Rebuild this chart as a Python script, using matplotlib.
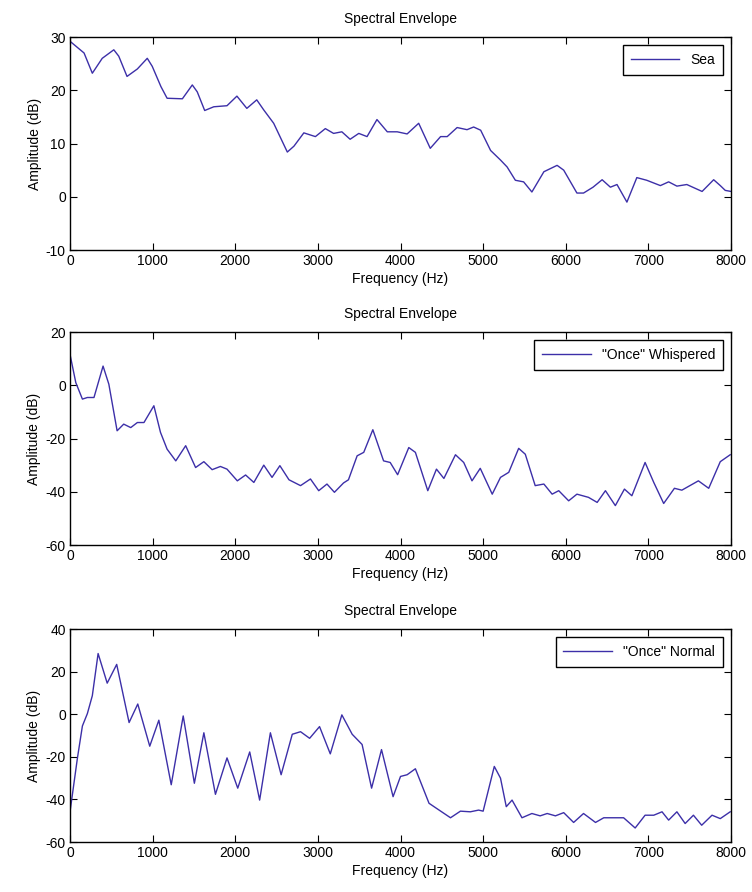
import numpy as np
import matplotlib
matplotlib.use("Agg")
import matplotlib.pyplot as plt

plt.rcParams['font.family'] = ['Liberation Sans', 'DejaVu Sans']
plt.rcParams['font.size'] = 10
plt.rcParams['axes.unicode_minus'] = False

# Sea
sea_f = [0, 170, 270, 390, 530, 590, 690, 815, 935, 995, 1100, 1175, 1360, 1480, 1540,
         1630, 1740, 1900, 2020, 2140, 2260, 2345, 2465, 2630, 2710, 2830, 2970, 3090,
         3190, 3290, 3390, 3495, 3595, 3715, 3840, 3960, 4080, 4220, 4360, 4485, 4565,
         4685, 4805, 4885, 4970, 5090, 5210, 5290, 5390, 5490, 5590, 5735, 5895, 5975,
         6135, 6215, 6330, 6440, 6540, 6620, 6740, 6860, 6980, 7145, 7245, 7345, 7465,
         7650, 7790, 7870, 7930, 8000]
sea_db = [29.2, 27, 23.2, 26, 27.6, 26.4, 22.6, 24, 26, 24.5, 20.7, 18.5, 18.4, 21, 19.7,
          16.2, 16.9, 17.1, 18.9, 16.6, 18.2, 16.3, 13.8, 8.4, 9.5, 12, 11.3, 12.8,
          11.9, 12.2, 10.8, 11.9, 11.3, 14.5, 12.2, 12.2, 11.8, 13.8, 9.1, 11.3, 11.3,
          13, 12.6, 13.1, 12.5, 8.7, 6.9, 5.6, 3.1, 2.8, 0.9, 4.7, 5.9, 5,
          0.7, 0.7, 1.8, 3.2, 1.8, 2.3, -1, 3.6, 3.1, 2.1, 2.8, 2, 2.3,
          1, 3.2, 2.1, 1.2, 1]

# "Once" whispered
whis_f = [0, 70, 150, 210, 290, 400, 470, 570, 650, 735, 815, 895, 1015, 1095, 1175,
          1280, 1400, 1520, 1620, 1720, 1820, 1900, 2025, 2125, 2225, 2345, 2445, 2540,
          2650, 2790, 2910, 3010, 3110, 3200, 3310, 3370, 3475, 3555, 3665, 3795, 3875,
          3965, 4100, 4180, 4330, 4435, 4525, 4665, 4765, 4865, 4965, 5110, 5210, 5310,
          5430, 5510, 5630, 5735, 5835, 5915, 6035, 6135, 6275, 6380, 6480, 6600, 6710,
          6800, 6960, 7065, 7185, 7315, 7405, 7605, 7730, 7870, 7990]
whis_db = [11.6, 1, -5.2, -4.6, -4.6, 7.2, 0.4, -17.1, -14.6, -15.9, -14, -14, -7.7, -17.7, -24,
           -28.4, -22.7, -30.9, -28.7, -31.7, -30.5, -31.5, -35.9, -33.7, -36.5, -30, -34.6, -30.2,
           -35.5, -37.7, -35.2, -39.6, -37.1, -40.2, -36.7, -35.5, -26.5, -25.2, -16.7, -28.4, -29,
           -33.6, -23.4, -25.2, -39.6, -31.5, -35, -26.1, -29, -35.9, -31.2, -40.9, -34.6, -32.7,
           -23.7, -25.9, -37.7, -37.1, -40.9, -39.6, -43.4, -40.9, -42.1, -44, -39.6, -45.2, -39,
           -41.5, -29, -36.5, -44.4, -38.7, -39.4, -35.9, -38.7, -28.7, -26.1]

# "Once" normal
norm_f = [0, 90, 150, 210, 270, 340, 450, 565, 715, 820, 965, 1075, 1225, 1370, 1505,
          1620, 1760, 1900, 2030, 2175, 2295, 2425, 2555, 2690, 2790, 2900, 3020, 3150,
          3290, 3415, 3535, 3650, 3770, 3910, 4000, 4080, 4180, 4345, 4425, 4605, 4725,
          4845, 4945, 5000, 5135, 5210, 5280, 5350, 5470, 5590, 5690, 5775, 5875, 5975,
          6095, 6215, 6360, 6460, 6700, 6840, 6960, 7065, 7165, 7245, 7345, 7445, 7545,
          7645, 7770, 7870, 7990]
norm_db = [-45.8, -20.5, -5.5, 0.3, 8.7, 28.5, 14.6, 23.4, -3.9, 4.8, -15, -2.8, -33.1, -0.8, -32.4,
           -8.7, -37.6, -20.5, -34.7, -17.7, -40.3, -8.7, -28.4, -9.4, -8.2, -11.3, -5.8, -18.6,
           -0.3, -9.4, -14.2, -34.7, -16.6, -38.7, -29.2, -28.4, -25.6, -41.8, -43.9, -48.6, -45.5,
           -45.8, -45, -45.5, -24.5, -30, -43.4, -40.3, -48.6, -46.6, -47.7, -46.6, -47.7, -46.2,
           -50.8, -46.6, -50.8, -48.6, -48.6, -53.4, -47.4, -47.4, -45.8, -49.7, -45.8, -51.3, -47.4,
           -52.1, -47.4, -49, -45.8]

series = [(sea_f, sea_db, 'Sea', (-10, 30), [-10, 0, 10, 20, 30]),
          (whis_f, whis_db, '"Once" Whispered', (-60, 20), [-60, -40, -20, 0, 20]),
          (norm_f, norm_db, '"Once" Normal', (-60, 40), [-60, -40, -20, 0, 20, 40])]

fig = plt.figure(figsize=(7.52, 8.92), dpi=100)
bottoms = [0.7197, 0.389, 0.056]
line_color = '#3c2fa8'

for (f, db, name, ylim, yt), b in zip(series, bottoms):
    ax = fig.add_axes([0.0931, b, 0.879, 0.2388])
    ax.plot(f, db, color=line_color, linewidth=1.0, label=name)
    ax.set_xlim(0, 8000)
    ax.set_ylim(*ylim)
    ax.set_xticks(np.arange(0, 8001, 1000))
    ax.set_yticks(yt)
    ax.tick_params(direction='in', top=True, right=True, length=5, width=0.8, pad=3)
    for s in ax.spines.values():
        s.set_linewidth(1.0)
    ax.set_title('Spectral Envelope', fontsize=10, pad=10)
    ax.set_xlabel('Frequency (Hz)', labelpad=3)
    ax.set_ylabel('Amplitude (dB)', labelpad=3)
    leg = ax.legend(loc='upper right', handlelength=3.5, fancybox=False, framealpha=1,
                    borderaxespad=0.6, edgecolor='black', borderpad=0.55)
    leg.get_frame().set_linewidth(1.0)

fig.savefig('out.png', dpi=100)
